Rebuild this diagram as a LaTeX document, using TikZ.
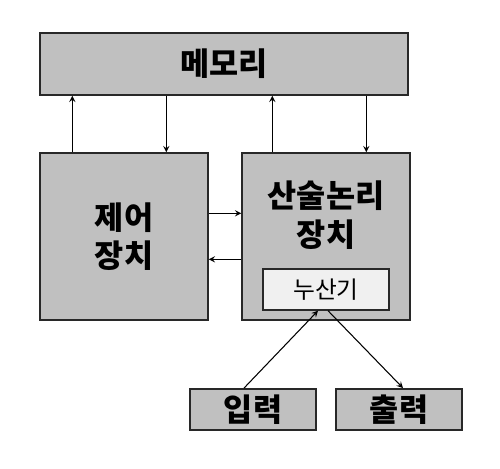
\documentclass[tikz,border=0pt]{standalone}
\usepackage{fontspec}
\setmainfont{Noto Sans CJK KR}
\usepackage{tikz}
\usetikzlibrary{arrows,shapes,positioning}
\usepackage{xcolor}
\definecolor{cpugray}{RGB}{192,192,192}
\definecolor{cpulight}{RGB}{240,240,240}
\definecolor{cpuedge}{RGB}{40,40,40}
\tikzstyle{arrow} = [semithick,-stealth,color=black]
\tikzstyle{unitbox} = [rectangle, minimum width=3.36cm, minimum height=3.34cm, draw=cpuedge, fill=cpugray, line width=0.8pt, inner sep=0pt]
\tikzstyle{iobox} = [rectangle, minimum width=2.52cm, minimum height=0.82cm, draw=cpuedge, fill=cpugray, line width=0.8pt, font=\fontsize{18}{20}\selectfont\bfseries]

\begin{document}
\begin{tikzpicture}
    \useasboundingbox (0,0) rectangle (10,9.36);

    % Memory
    \node[unitbox, minimum width=7.36cm, minimum height=1.24cm, font=\fontsize{18}{20}\selectfont\bfseries] (mem) at (4.48,8.08) {메모리};

    % Control unit and ALU
    \node[unitbox, align=center, font=\fontsize{18}{22}\selectfont\bfseries] (ctrl) at (2.48,4.63) {제어\\장치};
    \node[unitbox] (alu) at (6.52,4.63) {};
    \node[align=center, font=\fontsize{18}{22}\selectfont\bfseries] (alutext) at (6.52,5.06) {산술논리\\장치};
    \node[iobox, fill=cpulight, font=\fontsize{13.5}{15}\selectfont] (acc) at (6.52,3.57) {누산기};

    % Input / output
    \node[iobox] (in) at (5.06,1.17) {입력};
    \node[iobox] (out) at (7.98,1.17) {출력};

    % Connections
    \draw[arrow] ([xshift=0.66cm]ctrl.north west) -- ([xshift=0.66cm]ctrl.north west |- mem.south);
    \draw[arrow] ([xshift=2.54cm]ctrl.north west |- mem.south) -- ([xshift=2.54cm]ctrl.north west);
    \draw[arrow] ([xshift=0.62cm]alu.north west) -- ([xshift=0.62cm]alu.north west |- mem.south);
    \draw[arrow] ([xshift=2.5cm]alu.north west |- mem.south) -- ([xshift=2.5cm]alu.north west);
    \draw[arrow] ([yshift=-1.22cm]ctrl.north east) -- ([yshift=-1.22cm]ctrl.north east -| alu.west);
    \draw[arrow] ([yshift=-2.14cm]ctrl.north east -| alu.west) -- ([yshift=-2.14cm]ctrl.north east);
    \draw[arrow] ([xshift=-0.18cm]in.north) -- ([xshift=-0.16cm]acc.south);
    \draw[arrow] ([xshift=0.04cm]acc.south) -- ([xshift=0.08cm]out.north);
\end{tikzpicture}
\end{document}
